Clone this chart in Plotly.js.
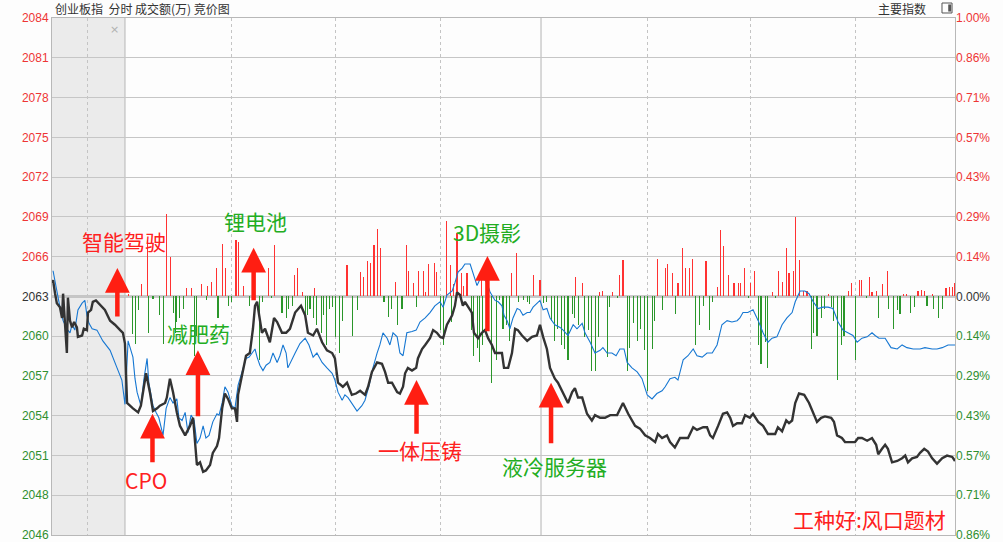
<!DOCTYPE html>
<html><head><meta charset="utf-8">
<script src="https://cdn.plot.ly/plotly-3.0.1.min.js"></script>
<style>html,body{margin:0;padding:0;background:#fdfdfd;}#chart{width:1003px;height:542px;}</style>
</head><body><div id="chart"></div>
<script>
// Time in minutes from 9:30 (auction is negative, 11:30/13:00 = 120, 15:00 = 240)
const baseValue = 2063;
const leftTickLabels = ["2046","2048","2051","2054","2057","2060","2063","2066","2069","2072","2075","2078","2081","2084"];
const rightTickLabels = ["0.86%","0.71%","0.57%","0.43%","0.29%","0.14%","0.00%","0.14%","0.29%","0.43%","0.57%","0.71%","0.86%","1.00%"];
const tickSteps = [-6,-5,-4,-3,-2,-1,0,1,2,3,4,5,6,7];

const indexTime = [
-21.1,-20.8,-20.2,-19.7,-18.8,-18.2,-17.9,-17.4,-16.8,-16.5,
-15.9,-15.3,-14.7,-13.9,-13.6,-12.4,-11.9,-11.0,-10.7,-9.8,
-9.3,-8.4,-7.2,-5.8,-4.3,-2.9,-1.4,-0.6,0,0.6,
2.3,3.8,4.6,6.1,7.2,8.1,9.3,10.1,11.6,12.1,
13.0,13.9,15.0,15.9,17.4,18.8,19.7,20.2,20.8,21.7,
22.6,23.4,24.6,25.4,26.6,27.2,28.1,28.9,29.8,30.9,
31.8,32.4,32.7,33.8,35.0,36.1,37.0,37.6,38.2,38.8,
39.6,40.5,41.9,43.1,44.0,45.4,46.6,47.7,49.2,50.9,
52.1,52.9,54.4,55.5,57.0,58.4,59.9,60.7,61.6,63.0,
64.2,65.6,66.8,68.0,69.4,70.3,71.4,72.9,74.3,75.2,
76.1,77.2,78.7,79.5,80.4,81.0,81.8,83.0,84.2,84.7,
85.9,86.8,88.2,89.1,90.2,91.1,92.0,93.1,94.6,95.4,
96.0,96.9,97.7,98.3,99.2,100.3,100.9,102.1,103.2,104.1,
105.0,106.1,107.0,107.9,109.0,109.6,110.8,111.9,112.8,113.6,
114.8,116.3,117.7,119.1,120.0,120.9,122.0,122.9,124.3,125.2,
126.4,128.1,129.3,130.1,131.0,132.2,133.6,135.0,135.9,137.4,
138.8,140.3,142.3,144.0,145.5,147.5,148.9,150.4,151.8,153.3,
154.1,155.3,156.7,157.6,159.0,160.5,161.9,162.8,164.3,165.4,
167.2,168.3,169.2,170.0,171.5,172.9,174.1,175.0,175.8,177.0,
178.4,179.3,180.7,181.6,183.1,184.5,185.9,188.0,188.8,190.0,
191.2,192.0,192.9,193.8,194.9,196.4,197.8,199.0,200.1,201.3,
202.4,204.2,205.0,205.9,207.3,208.2,209.7,211.1,212.0,213.1,
214.6,216.0,217.2,217.8,218.9,219.8,220.6,221.8,223.3,224.7,
225.6,226.4,227.6,229.0,229.9,231.1,232.2,233.4,234.8,236.3,
237.7,239.2,240.0];
const indexValue = [
2064.0,2064.2,2063.2,2062.5,2062.2,2061.4,2063.2,2061.2,2058.8,2062.9,
2061.2,2060.7,2061.1,2060.7,2060.0,2060.1,2060.6,2060.5,2061.8,2062.0,
2062.6,2062.7,2062.4,2062.0,2061.2,2060.9,2060.5,2060.3,2059.5,2055.1,
2054.7,2054.4,2054.9,2057.3,2055.9,2054.5,2054.7,2054.9,2055.1,2055.5,
2056.9,2055.9,2054.4,2053.4,2052.7,2053.4,2054.0,2052.5,2050.5,2050.7,
2050.0,2050.1,2050.5,2051.4,2051.9,2052.5,2054.7,2055.8,2055.4,2054.7,
2054.7,2053.7,2055.7,2057.1,2058.6,2058.8,2060.6,2062.3,2062.6,2061.6,
2060.3,2060.6,2059.6,2061.4,2061.1,2060.3,2060.3,2060.6,2061.8,2062.3,
2061.6,2060.3,2060.1,2060.6,2059.6,2059.0,2058.8,2058.4,2056.6,2056.3,
2056.6,2055.7,2055.8,2056.0,2055.7,2056.3,2057.4,2058.1,2058.0,2057.4,
2056.6,2056.6,2055.9,2055.8,2056.3,2057.3,2057.7,2057.5,2057.7,2058.4,
2059.1,2059.4,2059.9,2060.5,2060.3,2060.0,2059.9,2060.9,2061.6,2062.3,
2063.3,2063.1,2062.3,2062.6,2062.2,2061.8,2060.3,2059.9,2060.3,2060.5,
2059.9,2059.4,2058.8,2058.8,2058.8,2057.7,2057.7,2058.8,2060.6,2060.5,
2060.1,2059.7,2060.0,2060.1,2060.9,2060.0,2059.1,2057.7,2056.9,2056.6,
2056.0,2055.1,2055.9,2056.2,2055.5,2055.5,2054.3,2053.8,2054.2,2054.0,
2054.0,2054.2,2054.2,2055.1,2054.3,2053.4,2053.2,2052.7,2052.5,2052.2,
2052.8,2052.5,2052.7,2052.2,2051.8,2052.5,2052.5,2052.5,2053.3,2053.1,
2053.3,2053.3,2052.7,2052.5,2053.4,2054.3,2054.4,2054.0,2053.4,2053.6,
2053.6,2054.2,2054.0,2054.3,2053.7,2053.4,2052.8,2052.8,2053.3,2053.0,
2053.8,2053.6,2053.8,2055.1,2055.8,2055.7,2055.1,2054.4,2053.7,2054.0,
2054.1,2054.0,2053.7,2052.7,2052.5,2052.2,2052.2,2052.2,2052.5,2052.5,
2052.3,2052.5,2052.0,2051.3,2051.7,2052.0,2051.7,2050.7,2050.8,2051.0,
2051.2,2050.7,2051.0,2051.1,2051.4,2051.7,2051.5,2051.0,2050.6,2051.0,
2051.2,2051.1,2050.8];

const avgTime = [
-20.8,-20.2,-19.4,-18.8,-17.9,-16.8,-15.9,-15.3,-14.5,-13.6,
-12.4,-11.6,-11.0,-10.4,-9.5,-8.1,-6.4,-4.3,-2.3,-0.9,
0,0.9,2.3,2.9,3.5,4.6,5.5,6.4,6.9,8.1,
9.0,9.8,11.0,11.9,13.0,13.9,15.0,15.6,16.5,17.4,
18.2,19.1,20.0,20.8,21.7,22.6,23.4,24.3,25.4,26.6,
27.2,28.1,28.9,29.8,30.9,31.8,32.7,33.8,35.0,35.9,
36.7,37.6,38.2,39.0,39.9,40.8,41.9,42.8,44.0,44.8,
45.7,46.6,47.1,48.3,49.2,50.6,52.1,53.2,54.4,55.5,
57.0,58.4,59.9,60.7,61.6,62.8,63.6,64.5,65.6,67.1,
68.5,69.4,70.6,71.7,72.9,73.7,74.6,75.8,76.6,77.5,
78.7,79.5,80.4,81.5,83.0,84.2,85.3,86.8,88.2,89.6,
91.1,92.0,93.1,94.6,95.4,96.3,97.5,98.3,99.8,100.6,
101.8,102.7,103.8,104.7,105.6,107.0,107.9,109.0,109.6,110.5,
111.3,112.2,113.4,114.2,115.1,116.3,117.1,118.0,119.1,120.0,
120.9,122.0,122.9,124.3,125.8,126.7,128.1,129.6,130.7,132.2,
133.0,134.5,135.9,137.4,138.2,139.4,140.8,142.0,143.1,144.3,
145.2,146.6,148.1,149.5,151.0,152.4,153.8,155.3,156.2,157.6,
159.0,159.9,161.4,162.8,164.3,165.4,166.9,168.3,169.8,171.2,
172.6,174.1,175.5,177.0,177.8,178.7,180.1,181.6,183.1,184.5,
185.9,187.1,188.5,190.0,191.4,192.9,193.8,195.2,196.6,197.8,
199.0,200.4,201.8,203.3,204.7,206.2,207.6,209.1,210.5,211.7,
213.1,214.6,216.0,216.9,218.0,219.8,221.5,223.3,224.7,226.1,
227.9,229.9,231.3,233.4,234.8,236.3,238.0,240.0];
const avgValue = [
2064.9,2064.0,2063.1,2062.2,2061.2,2060.6,2060.3,2060.9,2060.5,2062.0,
2062.5,2062.7,2061.6,2061.0,2060.6,2060.5,2059.7,2059.0,2057.7,2056.8,
2055.0,2059.7,2058.5,2056.9,2055.9,2054.9,2056.9,2058.4,2056.6,2054.9,
2054.4,2054.0,2052.7,2054.7,2055.5,2055.1,2055.4,2054.0,2053.8,2054.4,
2052.9,2054.2,2053.8,2052.1,2052.5,2053.4,2052.5,2052.7,2053.7,2054.3,
2054.2,2055.1,2056.3,2055.9,2054.9,2054.7,2056.4,2057.4,2058.4,2058.5,
2058.8,2059.1,2058.5,2057.9,2057.5,2057.9,2058.1,2058.8,2058.1,2058.6,
2059.4,2058.8,2057.7,2058.4,2058.8,2059.5,2059.9,2059.4,2058.5,2058.8,
2058.1,2057.7,2057.3,2056.8,2055.9,2055.3,2055.7,2055.5,2055.1,2054.5,
2054.9,2055.3,2056.4,2057.7,2058.8,2059.4,2060.3,2059.9,2059.4,2060.3,
2060.0,2058.8,2058.6,2060.3,2060.4,2060.5,2061.1,2061.4,2061.8,2062.3,
2062.6,2062.2,2063.1,2063.4,2064.0,2064.8,2065.1,2065.4,2065.4,2064.8,
2063.8,2064.3,2064.3,2064.0,2063.3,2062.7,2062.6,2062.3,2061.6,2061.2,
2060.6,2061.4,2062.1,2062.0,2061.6,2061.8,2061.8,2062.2,2062.5,2062.7,
2062.0,2062.1,2061.4,2060.9,2060.7,2060.5,2060.1,2060.9,2060.6,2061.0,
2060.3,2059.6,2058.8,2059.0,2059.2,2058.8,2058.8,2058.6,2059.1,2059.1,
2058.1,2057.7,2057.4,2056.9,2055.7,2055.4,2055.8,2056.0,2056.3,2056.9,
2057.0,2056.8,2058.3,2058.6,2059.1,2058.6,2058.5,2058.8,2058.8,2059.4,
2060.9,2061.2,2061.1,2061.2,2061.4,2061.8,2061.8,2062.0,2061.2,2060.3,
2059.6,2059.9,2060.0,2060.9,2061.4,2061.8,2062.6,2063.4,2063.4,2063.2,
2062.6,2062.1,2062.2,2062.2,2062.1,2061.1,2060.5,2060.3,2060.1,2059.6,
2059.9,2060.0,2060.3,2060.1,2059.9,2059.9,2059.2,2059.1,2059.4,2059.2,
2059.1,2059.1,2059.2,2059.1,2059.1,2059.2,2059.4,2059.4];

const upBarTime = [
0.9,4.9,6.4,12.1,13.3,17.9,19.1,22.0,24.0,24.9,
26.6,28.1,29.2,32.1,32.9,34.4,41.4,43.1,48.9,50.0,
51.2,54.9,64.2,68.2,69.1,70.0,71.1,72.0,72.9,74.0,
78.1,81.3,82.1,83.3,85.0,86.2,87.0,87.9,89.4,90.2,
93.1,94.0,95.1,96.0,97.2,98.0,98.9,103.2,111.9,113.1,
118.0,120.0,130.4,132.2,137.1,138.2,141.1,143.1,144.0,154.1,
156.2,157.0,158.2,159.9,161.1,162.2,163.1,164.0,168.0,171.2,
172.1,173.2,174.4,176.1,177.3,178.1,179.0,181.0,181.9,187.1,
189.1,190.0,191.2,192.0,193.2,194.0,194.9,196.1,197.2,203.3,
209.1,210.2,212.3,213.1,215.2,216.0,217.2,218.9,220.4,225.0,
226.1,229.3,230.2,231.1,233.4,237.4,238.3,239.2,239.9];
const upBarValue = [
0.2,0.9,4.2,6.1,2.9,0.6,0.6,0.9,0.8,1.1,
2.1,3.9,2.1,4.2,4.0,0.8,2.1,3.8,1.6,2.1,
0.3,0.6,2.3,1.8,1.4,2.6,2.5,3.8,5.0,3.6,
1.1,3.8,1.9,1.0,1.9,1.9,0.3,2.4,2.5,1.8,
5.6,2.3,0.9,4.7,1.7,0.8,1.7,1.4,1.7,3.2,
1.6,1.2,1.4,1.0,0.3,0.4,0.3,1.6,2.7,2.8,
2.1,2.4,1.7,1.0,3.6,2.1,2.1,2.8,2.6,0.7,
4.9,3.7,1.6,1.0,1.0,1.0,2.1,1.0,1.9,0.3,
1.9,1.1,3.6,1.7,1.9,5.9,2.7,0.4,0.4,0.2,
0.4,1.0,1.2,1.2,1.4,0.3,0.4,0.9,1.9,0.2,
0.15,0.4,0.5,0.4,0.2,0.6,0.7,0.7,1.0];

const downBarTime = [
2.3,3.0,4.0,6.9,8.1,10.1,11.0,13.9,14.5,15.0,
15.9,16.8,20.0,20.8,23.7,26.9,29.8,30.9,36.1,39.0,
39.9,42.5,45.4,46.6,47.4,48.3,52.1,52.9,53.5,54.4,
55.5,56.7,57.5,58.4,59.0,60.1,61.0,61.9,63.0,65.9,
67.1,74.9,76.1,77.2,78.9,80.1,84.4,91.1,92.0,94.3,
100.3,100.9,101.8,102.4,103.5,106.1,107.3,108.2,109.3,110.2,
111.3,113.9,115.1,116.3,117.1,120.9,122.0,123.2,124.1,125.2,
126.1,127.2,128.1,129.3,130.1,131.0,133.0,134.0,135.0,136.0,
137.0,139.4,140.0,142.3,145.2,146.0,146.9,148.1,149.2,150.1,
151.0,152.4,153.0,155.3,159.3,165.1,166.0,167.2,168.9,170.0,
180.2,183.1,183.9,185.1,185.9,188.0,198.4,199.0,200.1,201.3,
202.4,204.2,205.0,205.9,207.1,207.9,211.1,214.3,218.0,220.9,
222.1,223.3,224.1,227.0,228.2,231.9,233.9,235.1,236.3];
const downBarValue = [
-2.8,-3.5,-1.0,-2.7,-0.2,-1.4,-3.5,-1.2,-2.7,-1.9,
-1.6,-0.9,-4.4,-2.9,-0.3,-1.6,-0.7,-0.4,-0.7,-4.7,
-0.4,-0.15,-1.2,-1.6,-0.9,-0.7,-1.9,-1.4,-0.9,-1.6,
-2.1,-2.7,-1.4,-3.6,-0.9,-0.8,-3.0,-4.2,-1.8,-2.9,
-1.0,-0.4,-1.5,-0.9,-2.1,-0.9,-0.8,-2.5,-3.6,-1.9,
-2.5,-4.4,-3.8,-4.9,-3.6,-6.4,-4.7,-0.3,-2.4,-2.1,
-3.3,-0.4,-0.3,-0.4,-0.6,-0.5,-0.4,-1.8,-3.3,-2.4,
-3.6,-3.9,-4.7,-1.3,-1.6,-2.1,-3.0,-2.5,-5.5,-5.5,
-3.0,-4.5,-0.8,-0.15,-5.5,-3.8,-2.0,-3.3,-2.4,-4.0,
-7.0,-3.9,-1.8,-1.0,-1.3,-3.6,-2.1,-0.7,-2.5,-0.4,
-0.15,-3.6,-5.0,-3.4,-5.3,-0.15,-3.9,-2.7,-2.9,-1.6,
-0.9,-0.8,-1.8,-6.2,-3.6,-2.9,-4.7,-0.15,-1.6,-0.9,
-2.4,-1.0,-1.3,-1.2,-0.8,-0.7,-0.9,-1.6,-0.9];

// Topic labels: text, colour group, label position, arrow tip and tail
const topicNames  = ["智能驾驶","减肥药","CPO","锂电池","一体压铸","3D摄影","液冷服务器"];
const topicColor  = ["red","green","red","green","red","green","green"];
const topicTextT  = [-0.3, 21.4, 6.1, 37.6, 85.3, 104.7, 124.3];
const topicTextV  = [2067.1, 2060.3, 2049.4, 2068.6, 2051.6, 2067.8, 2050.4];
const arrowT      = [-2.2, 21.1, 7.95, 37.2, 84.3, 104.8, 123.2];
const arrowTipV   = [2065.1, 2059.0, 2054.3, 2066.6, 2056.8, 2066.0, 2056.6];
const arrowTailV  = [2061.4, 2054.0, 2050.6, 2062.6, 2052.7, 2060.3, 2052.0];

const solidGridT = [0, 120.3];
const dottedGridT = [-10.7, 30.9, 61.0, 91.1, 151.0, 181.0, 211.1];
const xMin = -21.1, xMax = 240.0;

const stepPct = 1/700;
const tickVals = tickSteps.map(k => baseValue*(1+k*stepPct));
const yMin = tickVals[0] - 0.004, yMax = tickVals[tickVals.length-1] + 0.004;
const RED = '#ee3535', GREEN = '#2f8f2f', DARK = '#333333';
const colorFor = k => k > 0 ? RED : (k < 0 ? GREEN : DARK);
const leftText = leftTickLabels.map((t,i)=>`<span style="color:${colorFor(tickSteps[i])}">${t}</span>`);
const rightText = rightTickLabels.map((t,i)=>`<span style="color:${colorFor(tickSteps[i])}">${t}</span>`);

const traces = [
  {type:'bar', x:upBarTime, y:upBarValue, base:baseValue, width:0.3,
   marker:{color:'#ff3232', line:{width:0}}, hoverinfo:'skip'},
  {type:'bar', x:downBarTime, y:downBarValue, base:baseValue, width:0.3,
   marker:{color:'#2a962a', line:{width:0}}, hoverinfo:'skip'},
  {type:'scatter', mode:'lines', x:avgTime, y:avgValue,
   line:{color:'#1677d2', width:1.1}, hoverinfo:'skip'},
  {type:'scatter', mode:'lines', x:indexTime, y:indexValue,
   line:{color:'#333333', width:2.4}, hoverinfo:'skip'},
  {type:'scatter', mode:'markers', x:[0], y:[baseValue], yaxis:'y2',
   marker:{opacity:0}, hoverinfo:'skip'}
];

const CJK = '"Noto Sans CJK SC", "Noto Sans", sans-serif';
const annotations = [];
topicNames.forEach((name,i)=>{
  const c = topicColor[i]==='red' ? '#ff2020' : '#22ad22';
  annotations.push({x:arrowT[i], y:arrowTipV[i], ax:arrowT[i], ay:arrowTailV[i],
    axref:'x', ayref:'y', xref:'x', yref:'y', text:'', showarrow:true,
    arrowhead:2, arrowsize:1.1, arrowwidth:4.5, arrowcolor:'#ff1e12'});
  annotations.push({x:topicTextT[i], y:topicTextV[i], xref:'x', yref:'y', text:name,
    showarrow:false, font:{family:CJK, size:21, color:c}});
});
annotations.push({x:215.2, y:2046.5, xref:'x', yref:'y', text:'工种好:风口题材', showarrow:false,
  font:{family:CJK, size:21, color:'#ff2020'}});
annotations.push({x:0.001, y:1.0193, xref:'paper', yref:'paper', xanchor:'left', yanchor:'middle',
  text:'创业板指&nbsp;&nbsp;分时 成交额(万) 竞价图', showarrow:false, font:{family:CJK, size:12, color:'#333'}});
annotations.push({x:0.9413, y:1.0193, xref:'paper', yref:'paper', xanchor:'center', yanchor:'middle',
  text:'主要指数', showarrow:false, font:{family:CJK, size:12, color:'#333'}});
annotations.push({x:-2.9, y:2082.8, xref:'x', yref:'y', text:'×', showarrow:false,
  font:{family:'DejaVu Sans', size:11, color:'#b0b0b0'}});

const shapes = [
  {type:'rect', xref:'x', yref:'paper', x0:xMin, x1:0, y0:0, y1:1, fillcolor:'#ebebeb', line:{width:0}, layer:'below'},
  ...solidGridT.map(t=>({type:'line', xref:'x', yref:'paper', x0:t, x1:t, y0:0, y1:1,
     line:{color:'#c0c0c0', width:1.2}, layer:'between'})),
  {type:'line', xref:'paper', yref:'y', x0:0, x1:1, y0:baseValue, y1:baseValue,
     line:{color:'#b8b8b8', width:2.5}, layer:'between'},
  {type:'rect', xref:'paper', yref:'paper', x0:0.9856, x1:0.9967, y0:1.0097, y1:1.0290,
     line:{color:'#555', width:1}, fillcolor:'rgba(0,0,0,0)'},
  {type:'rect', xref:'paper', yref:'paper', x0:0.9925, x1:0.9957, y0:1.0125, y1:1.0262,
     line:{width:0}, fillcolor:'#555'}
];

const layout = {
  width:1003, height:542,
  margin:{l:52, r:48, t:18, b:7, pad:0},
  paper_bgcolor:'#fdfdfd', plot_bgcolor:'#fdfdfd',
  showlegend:false, barmode:'overlay', bargap:0,
  font:{family:'"Liberation Sans", Arial, sans-serif', size:12, color:'#333'},
  xaxis:{range:[xMin,xMax], tickvals:dottedGridT, showticklabels:false, ticks:'',
    showgrid:true, gridcolor:'#c4c4c4', griddash:'dot', gridwidth:1,
    zeroline:false, showline:true, mirror:true, linecolor:'#b8b8b8', linewidth:1, fixedrange:true},
  yaxis:{range:[yMin,yMax], tickvals:tickVals, ticktext:leftText, ticks:'', ticklabeloverflow:'allow',
    showgrid:true, gridcolor:'#c6c6c6', gridwidth:1, zeroline:false,
    showline:true, mirror:true, linecolor:'#b8b8b8', linewidth:1,
    tickfont:{family:'"Liberation Sans", Arial, sans-serif', size:12}, fixedrange:true},
  yaxis2:{range:[yMin,yMax], overlaying:'y', side:'right', tickvals:tickVals, ticktext:rightText,
    ticks:'', showgrid:false, zeroline:false, showline:false, ticklabeloverflow:'allow',
    tickfont:{family:'"Liberation Sans", Arial, sans-serif', size:12}, fixedrange:true},
  shapes:shapes, annotations:annotations
};

Plotly.newPlot('chart', traces, layout, {staticPlot:true, displayModeBar:false});
</script>
</body></html>
